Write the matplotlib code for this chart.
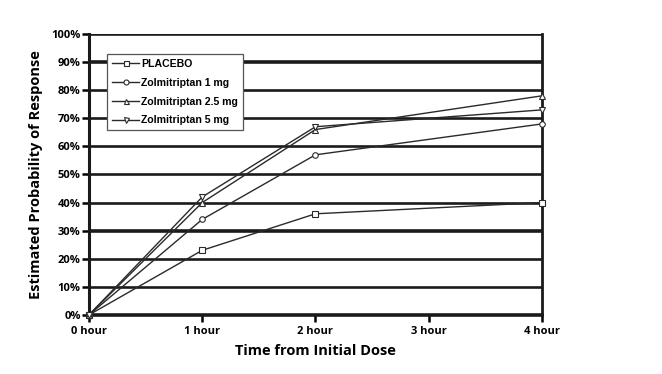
import matplotlib
matplotlib.use("Agg")
import matplotlib.pyplot as plt
from matplotlib.ticker import FuncFormatter

plt.rcParams['font.family'] = ['Open Sans', 'DejaVu Sans']

# data
hours = [0, 1, 2, 4]
hour_labels = ["0 hour", "1 hour", "2 hour", "3 hour", "4 hour"]
placebo = [0, 23, 36, 40]
zolmi_1 = [0, 34, 57, 68]
zolmi_25 = [0, 40, 66, 78]
zolmi_5 = [0, 42, 67, 73]

series = [
    ("PLACEBO", placebo, "s"),
    ("Zolmitriptan 1 mg", zolmi_1, "o"),
    ("Zolmitriptan 2.5 mg", zolmi_25, "^"),
    ("Zolmitriptan 5 mg", zolmi_5, "v"),
]

fig = plt.figure(figsize=(6.62, 3.74), dpi=100)
ax = fig.add_axes([0.1344, 0.158, 0.6843, 0.751])

# horizontal grid, some lines heavier
for v in range(10, 101, 10):
    lw = 2.6 if v in (30, 90, 100) else 1.9
    ax.axhline(v, color="#1a1a1a", lw=lw, zorder=1)

for name, vals, mk in series:
    ax.plot(hours, vals, color="#2a2a2a", lw=1.0, marker=mk, markersize=4,
            markerfacecolor="white", markeredgecolor="#2a2a2a", markeredgewidth=0.8,
            label=name, zorder=3, clip_on=False)

ax.set_xlim(0, 4)
ax.set_ylim(0, 100)
ax.set_xticks(range(5))
ax.set_xticklabels(hour_labels)
ax.set_yticks(range(0, 101, 10))
ax.yaxis.set_major_formatter(FuncFormatter(lambda v, p: "%d%%" % v))

ax.spines["top"].set_visible(False)
ax.spines["left"].set_linewidth(2.2)
ax.spines["bottom"].set_linewidth(2.6)
ax.spines["right"].set_linewidth(2.0)
for s in ["left", "bottom", "right"]:
    ax.spines[s].set_color("#1a1a1a")

ax.tick_params(axis="y", direction="out", length=5, width=1.8, labelsize=8, pad=1)
ax.tick_params(axis="x", direction="out", length=5, width=1.8, labelsize=8, pad=3)
for lab in ax.get_xticklabels() + ax.get_yticklabels():
    lab.set_fontweight("bold")

ax.set_xlabel("Time from Initial Dose", fontsize=10.5, fontweight="bold", labelpad=5)
ax.set_ylabel("Estimated Probability of Response", fontsize=10.5, fontweight="bold", labelpad=6)

leg = ax.legend(loc="upper left", bbox_to_anchor=(0.04, 0.928), frameon=True, fancybox=False,
                handlelength=2.6, handletextpad=0.2, borderpad=0.45,
                labelspacing=0.83, borderaxespad=0, markerscale=0.9,
                prop={"family": ["Liberation Sans Narrow", "Liberation Sans", "DejaVu Sans"],
                      "weight": "bold", "size": 7.6})
leg.get_frame().set_edgecolor("#555555")
leg.get_frame().set_linewidth(0.9)
leg.get_frame().set_facecolor("white")
leg.get_frame().set_alpha(1)
leg.set_zorder(5)

fig.savefig("out.png", dpi=100)
